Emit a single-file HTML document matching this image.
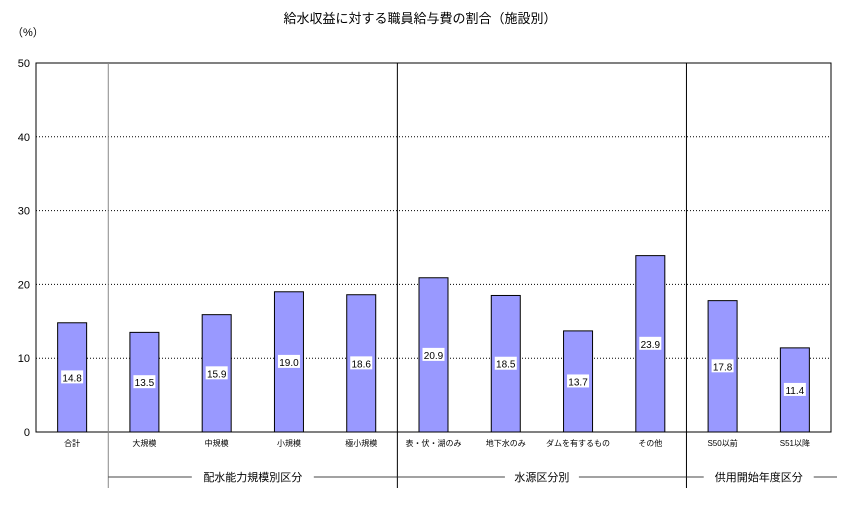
<!DOCTYPE html>
<html><head><meta charset="utf-8"><style>
body{margin:0;background:#fff;}
svg{display:block;font-family:"Liberation Sans","Noto Sans CJK JP",sans-serif;}
</style></head><body>
<svg id="c" width="841" height="505" viewBox="0 0 841 505">
<text x="420" y="23" font-size="13" text-anchor="middle">給水収益に対する職員給与費の割合（施設別）</text>
<text x="12" y="36" font-size="11">（%）</text>
<g id="g"></g>
</svg>
<script>
const categories=["合計","大規模","中規模","小規模","極小規模","表・伏・湖のみ","地下水のみ","ダムを有するもの","その他","S50以前","S51以降"];
const values=[14.8,13.5,15.9,19.0,18.6,20.9,18.5,13.7,23.9,17.8,11.4];
const yTicks=[0,10,20,30,40,50];
const groups=[{name:"配水能力規模別区分",from:1,to:4},{name:"水源区分別",from:5,to:8},{name:"供用開始年度区分",from:9,to:10}];
const L=36,R=831,T=63,B=432,yMax=50;
const n=categories.length,cw=(R-L)/n;
const y=v=>B-(v/yMax)*(B-T);
const xc=i=>L+cw*(i+0.5);
const g=document.getElementById('g');
const NS="http://www.w3.org/2000/svg";
function mk(t,a,p){const e=document.createElementNS(NS,t);for(const k in a)e.setAttribute(k,a[k]);(p||g).appendChild(e);return e;}
yTicks.forEach(t=>{
  if(t>0&&t<yMax){const l=mk('line',{x1:L,x2:R,y1:y(t),y2:y(t),stroke:'#000','stroke-width':1,'stroke-dasharray':'1,2'});
  
  }
  const tx=mk('text',{x:L-6,y:y(t)+4,'font-size':11,'text-anchor':'end'});tx.textContent=t;
  
  
});
const fr=mk('rect',{x:L,y:T,width:R-L,height:B-T,fill:'none',stroke:'#000','stroke-width':1});


values.forEach((v,i)=>{
  const bw=29,x=xc(i)-bw/2;
  const r=mk('rect',{x:x,y:y(v),width:bw,height:B-y(v),fill:'#9999ff',stroke:'#000','stroke-width':1});
  
  
  const my=(y(v)+B)/2;
  const bg=mk('rect',{x:xc(i)-11,y:my-7,width:22,height:13,fill:'#fff'});
  
  
  const t=mk('text',{x:xc(i),y:my+4,'font-size':10,'text-anchor':'middle'});t.textContent=v.toFixed(1);
  
  
  const c=mk('text',{x:xc(i),y:446,'font-size':8,'text-anchor':'middle'});c.textContent=categories[i];
  
  
});
groups.forEach((gr,k)=>{
  const x0=L+cw*gr.from,x1=L+cw*(gr.to+1);
  const sep=mk('line',{x1:x0,x2:x0,y1:T,y2:488,stroke:k==0?'#888':'#000','stroke-width':1});
  
  
  const mid=(x0+x1)/2,w=gr.name.length*12+14;
  const l1=mk('line',{x1:x0,x2:mid-w/2,y1:477,y2:477,stroke:'#444'});
  
  
  const l2=mk('line',{x1:mid+w/2,x2:Math.min(x1+8,R+6),y1:477,y2:477,stroke:'#444'});
  
  
  const t=mk('text',{x:mid,y:481,'font-size':11,'text-anchor':'middle'});t.textContent=gr.name;
  
  
});
</script>
</body></html>
